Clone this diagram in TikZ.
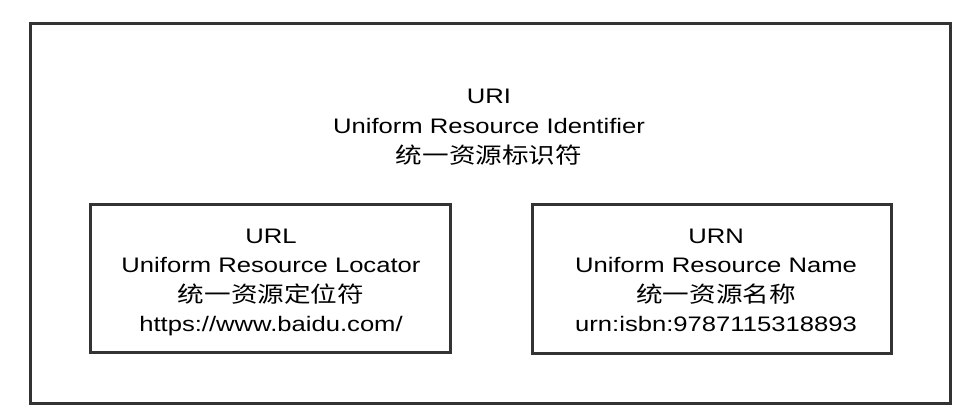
\documentclass[tikz,border=0pt]{standalone}
\usepackage{fontspec}
\setmainfont[FakeStretch=1.22]{Liberation Sans}
\newfontfamily\cjk[FakeStretch=1.21]{Noto Sans CJK SC}
\definecolor{edge}{HTML}{333333}
\begin{document}
\begin{tikzpicture}[x=1pt,y=-1pt,
  box/.style={draw=edge, line width=3pt, inner sep=0pt},
  txt/.style={anchor=base, inner sep=0pt, font=\fontsize{21}{25}\selectfont},
  zh/.style={anchor=base, inner sep=0pt, font=\fontsize{22}{25}\selectfont\cjk}]
\fill[white] (0,0) rectangle (968,417);
\useasboundingbox (0,0) rectangle (968,417);
% boxes
\node[box, minimum width=920pt, minimum height=379pt] (uri) at (490,213.5) {};
\node[box, minimum width=360pt, minimum height=148pt] (url) at (270,278) {};
\node[box, minimum width=359pt, minimum height=149pt] (urn) at (711.5,278.5) {};
% URI text
\node[txt] (uri1) at (489,104) {URI};
\node[txt] (uri2) at (489,133.5) {Uniform Resource Identifier};
\node[zh]  (uri3) at (489,163) {统一资源标识符};
% URL text
\node[txt] (url1) at (271,243) {URL};
\node[txt] (url2) at (271,272.5) {Uniform Resource Locator};
\node[zh]  (url3) at (271,302) {统一资源定位符};
\node[txt] (url4) at (271,331.5) {https://www.baidu.com/};
% URN text
\node[txt] (urn1) at (716,243) {URN};
\node[txt] (urn2) at (716,272.5) {Uniform Resource Name};
\node[zh]  (urn3) at (716,302) {统一资源名称};
\node[txt] (urn4) at (716,331.5) {urn:isbn:9787115318893};
\end{tikzpicture}
\end{document}
